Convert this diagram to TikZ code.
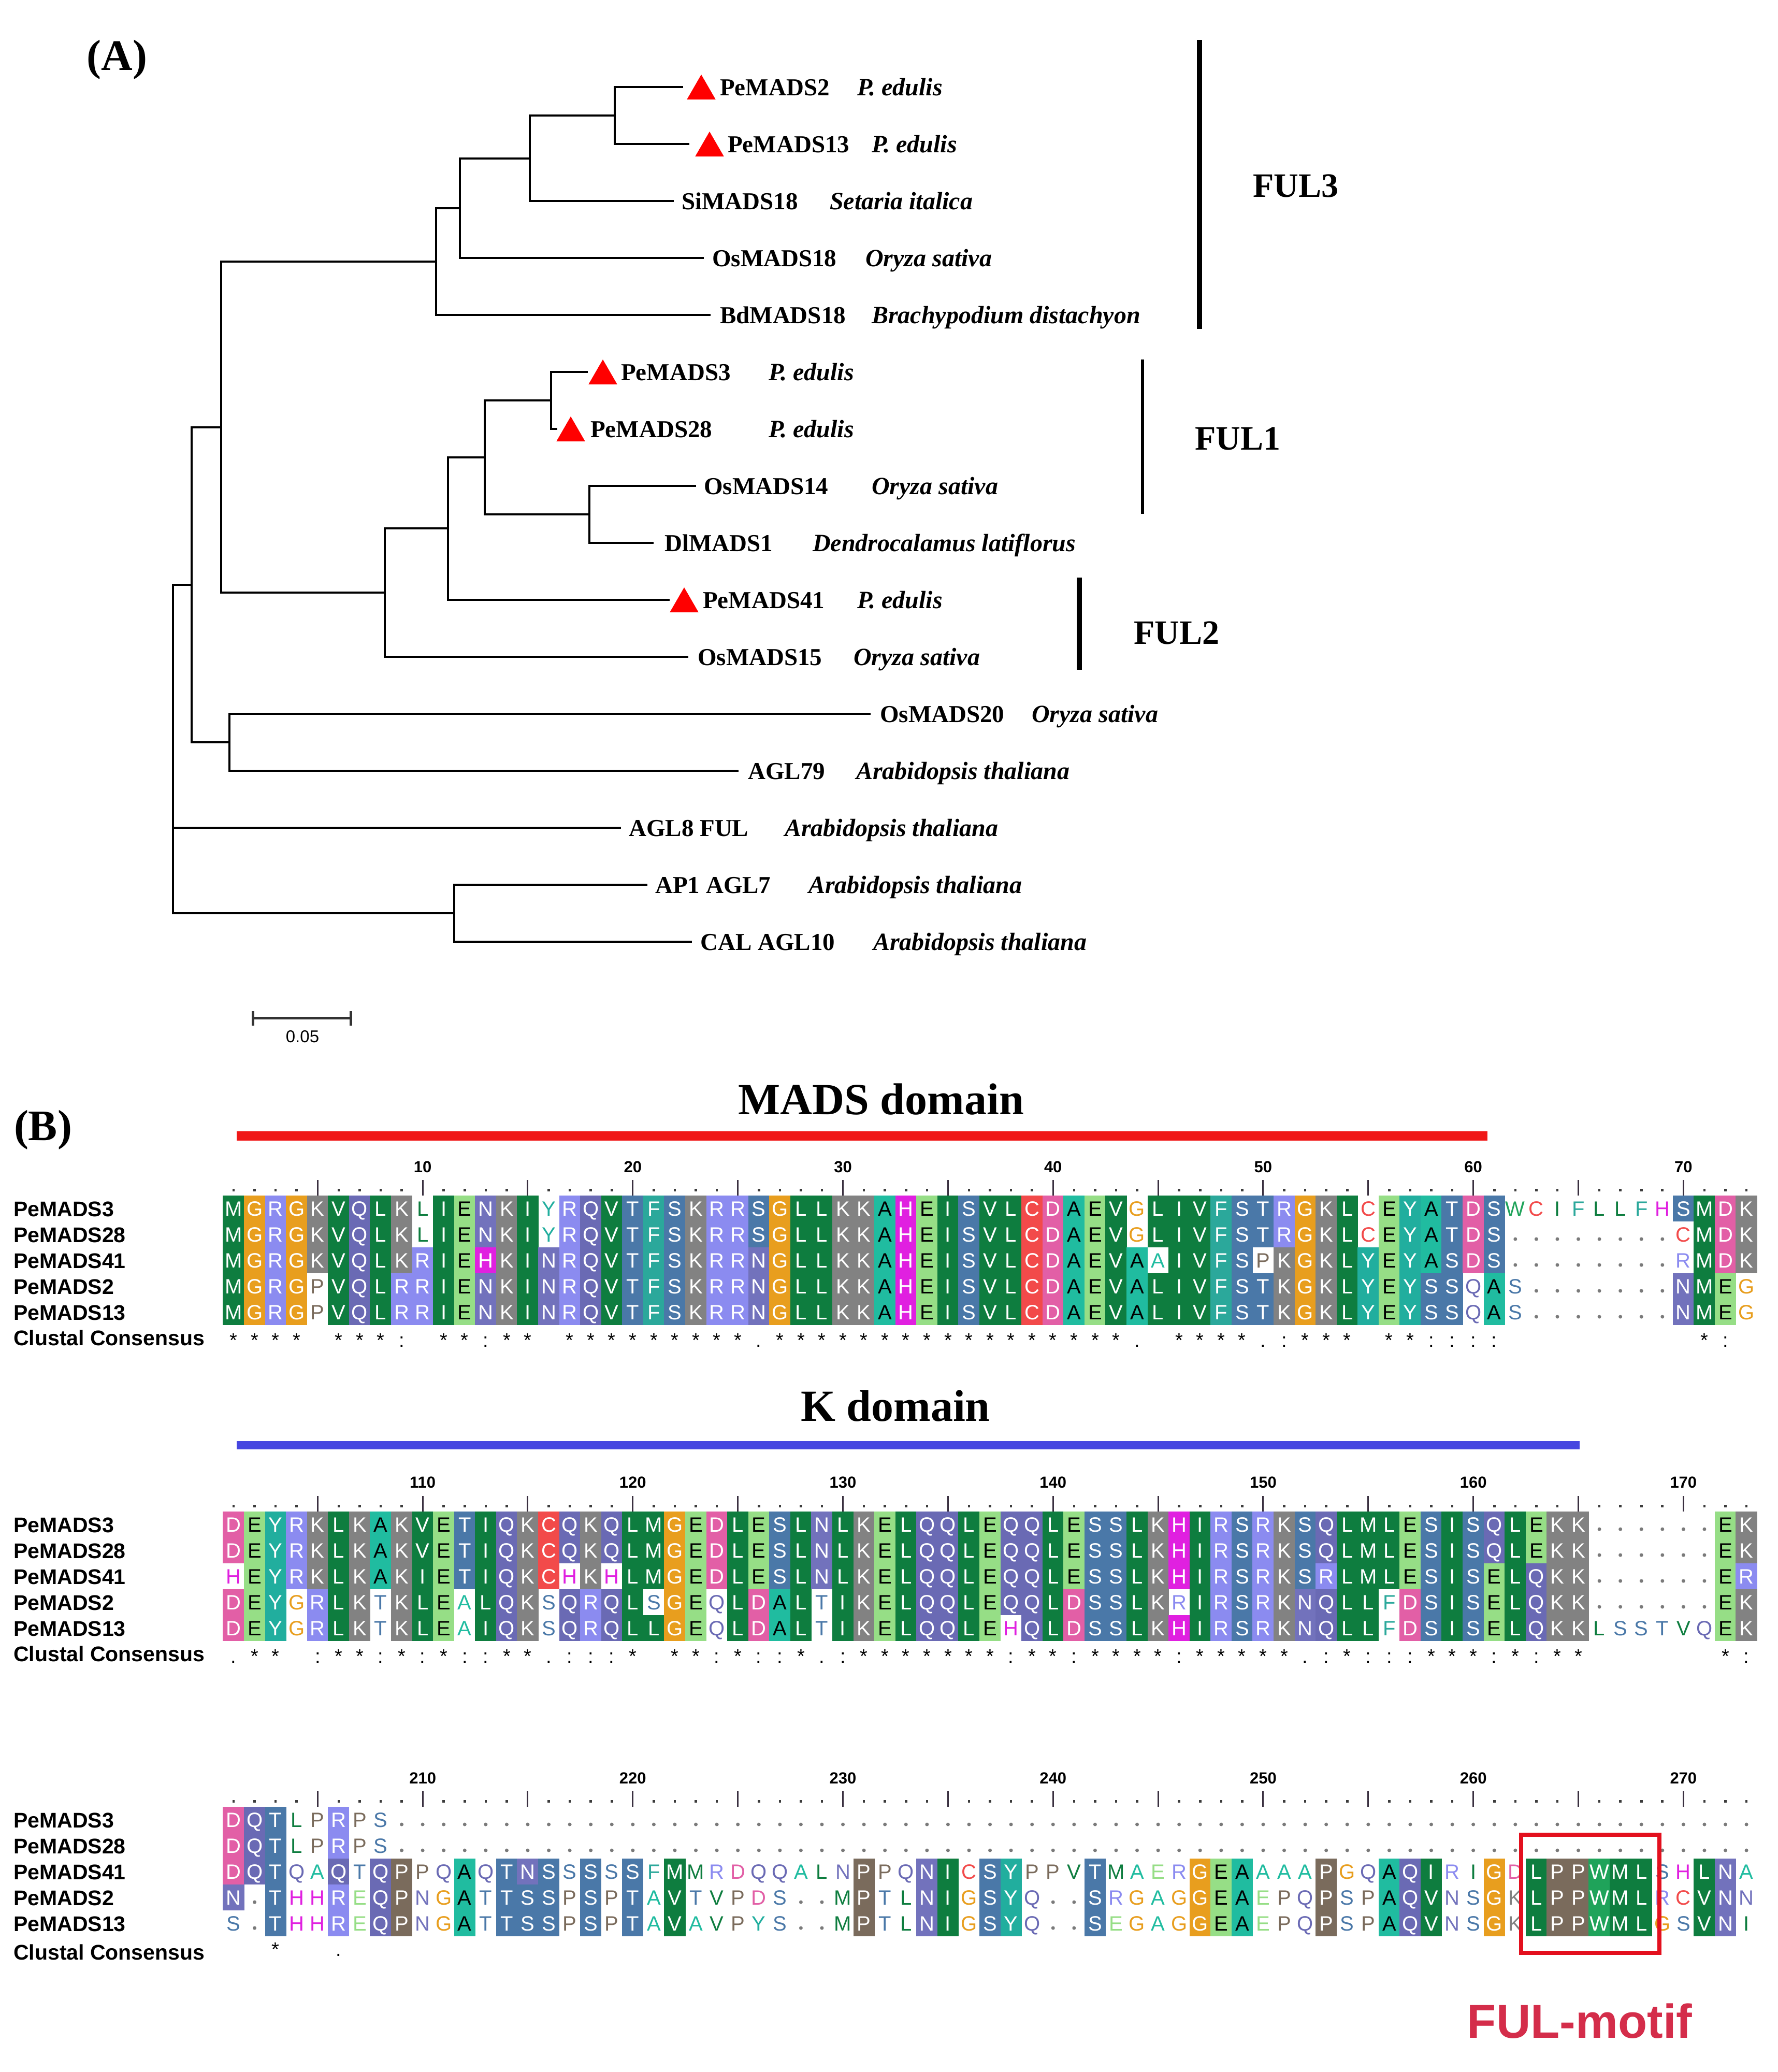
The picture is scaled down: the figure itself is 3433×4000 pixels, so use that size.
\documentclass[tikz,border=0pt]{standalone}
\usepackage{fontspec}
\setmainfont{Liberation Serif}
\newfontfamily\sansf{Liberation Sans}
\usetikzlibrary{shapes.geometric}

\definecolor{rA}{HTML}{20BCA0}
\definecolor{rC}{HTML}{F24A4A}
\definecolor{rD}{HTML}{E25FA6}
\definecolor{rE}{HTML}{96DE86}
\definecolor{rF}{HTML}{2BA89B}
\definecolor{rG}{HTML}{E89E1E}
\definecolor{rH}{HTML}{E020E0}
\definecolor{rI}{HTML}{0E7D3F}
\definecolor{rK}{HTML}{828282}
\definecolor{rL}{HTML}{0E7D3F}
\definecolor{rM}{HTML}{0E7D3F}
\definecolor{rN}{HTML}{7272BC}
\definecolor{rP}{HTML}{7A6B5C}
\definecolor{rQ}{HTML}{6A6AB4}
\definecolor{rR}{HTML}{8B8BF0}
\definecolor{rS}{HTML}{4A78A8}
\definecolor{rT}{HTML}{4A78A8}
\definecolor{rV}{HTML}{0E7D3F}
\definecolor{rW}{HTML}{1FA35A}
\definecolor{rY}{HTML}{21AE9E}
\definecolor{motifred}{HTML}{D42D4A}
\definecolor{boxred}{HTML}{E3101E}
\definecolor{domainred}{HTML}{F01818}
\definecolor{domainblue}{HTML}{4646E0}
\definecolor{tickcol}{HTML}{3A3040}
\definecolor{dotcol}{HTML}{3C3C3C}
\definecolor{gapcol}{HTML}{7A7A7A}
\definecolor{barcol}{HTML}{333333}

\tikzset{
  treeline/.style={line width=4pt, black},
  leafname/.style={font=\bfseries\fontsize{47}{50}\selectfont, anchor=base west, inner sep=0pt},
  species/.style={font=\bfseries\itshape\fontsize{48}{50}\selectfont, anchor=base west, inner sep=0pt},
  marker/.style={regular polygon, regular polygon sides=3, fill=red, draw=none, minimum size=64pt, inner sep=0pt, outer sep=0pt},
  cladelabel/.style={font=\bfseries\fontsize{66}{70}\selectfont, inner sep=0pt},
  panellabel/.style={font=\bfseries\fontsize{84}{90}\selectfont, inner sep=0pt},
  domainlabel/.style={font=\bfseries\fontsize{86}{90}\selectfont, inner sep=0pt},
  resstyle/.style={font=\sansf\fontsize{40}{40}\selectfont, anchor=base, inner sep=0pt, outer sep=0pt},
  consstyle/.style={font=\sansf\fontsize{38}{38}\selectfont, anchor=base, inner sep=0pt},
  seqname/.style={font=\sansf\bfseries\fontsize{41}{44}\selectfont, anchor=base west, inner sep=0pt},
  rulernum/.style={font=\sansf\bfseries\fontsize{31}{33}\selectfont, inner sep=0pt},
  rulertick/.style={line width=3pt, draw=tickcol},
  rulerdot/.style={fill=dotcol},
  gapdot/.style={fill=gapcol},
  scalebar/.style={line width=5pt, draw=barcol},
}

\newcount\colidx
\def\tendots{..........}
\expandafter\def\csname dk@A\endcsname{}
\expandafter\def\csname dk@E\endcsname{}

\def\boxedres#1{%
  \fill[fill=r#1] (\cx-20.6,\rowy-25.3) rectangle (\cx+20.6,\rowy+25.3);%
  \ifcsname dk@#1\endcsname\def\tcol{black}\else\def\tcol{white}\fi
  \node[resstyle,text=\tcol] (res-\blkid-\rowy-\the\colidx) at (\cx,\rowy+14.5) {#1};}
\def\plainres#1{%
  \node[resstyle,text=r#1] (res-\blkid-\rowy-\the\colidx) at (\cx,\rowy+14.5) {#1};}
\def\drawres#1{%
  \pgfmathsetmacro\cx{451+(\the\colidx-1)*40.57}%
  \ifx#1.\relax
    \fill[gapdot] (\cx,\rowy+9) circle[radius=3.5pt];%
  \else
    \uppercase{\def\upl{#1}}\def\orig{#1}%
    \ifx\upl\orig
      \expandafter\boxedres\expandafter{\upl}%
    \else
      \expandafter\plainres\expandafter{\upl}%
    \fi
  \fi}
\def\seqloop#1{\ifx#1\relax\else\global\advance\colidx by 1 \drawres{#1}\expandafter\seqloop\fi}
\def\drawrow#1#2#3{\def\blkid{#1}\def\rowy{#2}\global\colidx=0 \edef\tmpseq{#3}\expandafter\seqloop\tmpseq\relax}

\def\conssym#1{\ifx#1_\else
  \pgfmathsetmacro\cx{451+(\the\colidx-1)*40.57}%
  \node[consstyle] (cons-\rowy-\the\colidx) at (\cx,\rowy) {#1};\fi}
\def\consloop#1{\ifx#1\relax\else\global\advance\colidx by 1 \conssym{#1}\expandafter\consloop\fi}
\def\drawcons#1#2{\def\rowy{#1}\global\colidx=0 \consloop#2\relax}

\newcommand\drawruler[4]{%
  \foreach \c in {1,...,73}{%
    \pgfmathsetmacro\cx{451+(\c-1)*40.57}%
    \pgfmathtruncatemacro\m{mod(\c,5)}%
    \ifnum\m=0
      \draw[rulertick] (\cx,#2) -- (\cx,#3);
    \else
      \fill[rulerdot] (\cx-2.3,#3-13.5) rectangle (\cx+2.3,#3-8.5);
    \fi}
  \foreach \c in {10,20,...,70}{%
    \pgfmathsetmacro\cx{451+(\c-1)*40.57}%
    \pgfmathtruncatemacro\lab{#4+\c}%
    \node[rulernum] (num-#4-\c) at (\cx,#1) {\lab};}}

\newcommand\blocknames[2]{% #1 first row y, #2 consensus label y
  \foreach \nm [count=\k] in {PeMADS3,PeMADS28,PeMADS41,PeMADS2,PeMADS13}{%
    \pgfmathsetmacro\ny{#1+50*(\k-1)+15}%
    \node[seqname] (nm-#1-\k) at (26,\ny) {\nm};}
  \node[seqname] (cc-#1) at (26,#2+15) {Clustal Consensus};}

\begin{document}
\begin{tikzpicture}[x=1pt,y=-1pt]
\fill[white] (0,0) rectangle (3433,4000);
\useasboundingbox (0,0) rectangle (3433,4000);

% ---------------- Panel A: tree ----------------
\node[panellabel] (panelA) at (226,115) {(A)};

\coordinate (e1) at (1319,168);
\coordinate (e2) at (1331,278);
\coordinate (e3) at (1301,388);
\coordinate (e4) at (1359,498);
\coordinate (e5) at (1372,608);
\coordinate (e6) at (1135,718);
\coordinate (e7) at (1076,828);
\coordinate (e8) at (1344,938);
\coordinate (e9) at (1262,1048);
\coordinate (e10) at (1293,1158);
\coordinate (e11) at (1329,1268);
\coordinate (e12) at (1681,1378);
\coordinate (e13) at (1426,1488);
\coordinate (e14) at (1199,1598);
\coordinate (e15) at (1250,1708);
\coordinate (e16) at (1336,1818);

\coordinate (na) at (1187,223);
\coordinate (nb) at (1023,306);
\coordinate (nc) at (888,402);
\coordinate (nd) at (842,505);
\coordinate (ne) at (1064,773);
\coordinate (nf) at (1138,993);
\coordinate (ng) at (936,883);
\coordinate (nh) at (865,1020);
\coordinate (ni) at (743,1144);
\coordinate (nj) at (427,825);
\coordinate (nk) at (443,1433);
\coordinate (nl) at (370,1129);
\coordinate (nm) at (877,1763);
\coordinate (nr) at (334,1446);

\draw[treeline] (e1) -| (na) |- (e2);
\draw[treeline] (na) -| (nb) |- (e3);
\draw[treeline] (nb) -| (nc) |- (e4);
\draw[treeline] (nc) -| (nd) |- (e5);
\draw[treeline] (e6) -| (ne) |- (e7);
\draw[treeline] (e8) -| (nf) |- (e9);
\draw[treeline] (ne) -| (ng) |- (nf);
\draw[treeline] (ng) -| (nh) |- (e10);
\draw[treeline] (nh) -| (ni) |- (e11);
\draw[treeline] (nd) -| (nj) |- (ni);
\draw[treeline] (e12) -| (nk) |- (e13);
\draw[treeline] (nj) -| (nl) |- (nk);
\draw[treeline] (nl) -| (nr) |- (nm);
\draw[treeline] (nr |- e14) -- (e14);
\draw[treeline] (e15) -| (nm) |- (e16);

\node[marker] (t1) at (1354,176) {};
\node[marker] (t2) at (1370,286) {};
\node[marker] (t6) at (1164,726) {};
\node[marker] (t7) at (1102,836) {};
\node[marker] (t10) at (1321,1166) {};

\node[leafname] (l1) at (1390,184) {PeMADS2};
\node[species] (s1) at (1655,184) {P. edulis};
\node[leafname] (l2) at (1405,294) {PeMADS13};
\node[species] (s2) at (1683,294) {P. edulis};
\node[leafname] (l3) at (1316,404) {SiMADS18};
\node[species] (s3) at (1602,404) {Setaria italica};
\node[leafname] (l4) at (1375,514) {OsMADS18};
\node[species] (s4) at (1671,514) {Oryza sativa};
\node[leafname] (l5) at (1390,624) {BdMADS18};
\node[species] (s5) at (1683,624) {Brachypodium distachyon};
\node[leafname] (l6) at (1199,734) {PeMADS3};
\node[species] (s6) at (1484,734) {P. edulis};
\node[leafname] (l7) at (1140,844) {PeMADS28};
\node[species] (s7) at (1484,844) {P. edulis};
\node[leafname] (l8) at (1359,954) {OsMADS14};
\node[species] (s8) at (1683,954) {Oryza sativa};
\node[leafname] (l9) at (1283,1064) {DlMADS1};
\node[species] (s9) at (1569,1064) {Dendrocalamus latiflorus};
\node[leafname] (l10) at (1357,1174) {PeMADS41};
\node[species] (s10) at (1655,1174) {P. edulis};
\node[leafname] (l11) at (1347,1284) {OsMADS15};
\node[species] (s11) at (1648,1284) {Oryza sativa};
\node[leafname] (l12) at (1699,1394) {OsMADS20};
\node[species] (s12) at (1992,1394) {Oryza sativa};
\node[leafname] (l13) at (1444,1504) {AGL79};
\node[species] (s13) at (1653,1504) {Arabidopsis thaliana};
\node[leafname] (l14) at (1214,1614) {AGL8 FUL};
\node[species] (s14) at (1515,1614) {Arabidopsis thaliana};
\node[leafname] (l15) at (1265,1724) {AP1 AGL7};
\node[species] (s15) at (1561,1724) {Arabidopsis thaliana};
\node[leafname] (l16) at (1352,1834) {CAL AGL10};
\node[species] (s16) at (1686,1834) {Arabidopsis thaliana};

% clade bars
\draw[line width=10pt] (2316,77) -- (2316,635);
\draw[line width=6pt] (2206,694) -- (2206,992);
\draw[line width=10pt] (2084,1115) -- (2084,1293);
\node[cladelabel] (ful3) at (2502,359) {FUL3};
\node[cladelabel] (ful1) at (2390,847) {FUL1};
\node[cladelabel] (ful2) at (2272,1222) {FUL2};

% scale bar
\coordinate (sb1) at (488,1965);
\coordinate (sb2) at (677,1965);
\draw[scalebar] (sb1) -- (sb2);
\draw[scalebar] ([yshift=13pt]sb1) -- ([yshift=-15pt]sb1);
\draw[scalebar] ([yshift=13pt]sb2) -- ([yshift=-15pt]sb2);
\node[font=\sansf\fontsize{33}{35}\selectfont, inner sep=0pt] (sblab) at (584,2001) {0.05};

% ---------------- Panel B: alignment ----------------
\node[panellabel] (panelB) at (83,2181) {(B)};
\node[domainlabel] (madsdom) at (1701,2122) {MADS domain};
\fill[domainred] (457,2184) rectangle (2872,2202);
\node[domainlabel] (kdom) at (1729,2714) {K domain};
\fill[domainblue] (457,2782) rectangle (3050,2798);

% block 1
\drawruler{2253}{2278}{2308}{0}
\blocknames{2333}{2582}
\drawrow{a}{2333}{MGRGKVQLKlIENKIyRQVTFSKRRSGLLKKAHEISVLCDAEVgLIVFSTRGKLcEYATDSwcifllfhSMDK}
\drawrow{a}{2383}{MGRGKVQLKlIENKIyRQVTFSKRRSGLLKKAHEISVLCDAEVgLIVFSTRGKLcEYATDS........cMDK}
\drawrow{a}{2433}{MGRGKVQLKRIEHKINRQVTFSKRRNGLLKKAHEISVLCDAEVAaIVFSpKGKLYEYASDS........rMDK}
\drawrow{a}{2483}{MGRGpVQLRRIENKINRQVTFSKRRNGLLKKAHEISVLCDAEVALIVFSTKGKLYEYSSqAs.......NMEg}
\drawrow{a}{2533}{MGRGpVQLRRIENKINRQVTFSKRRNGLLKKAHEISVLCDAEVALIVFSTKGKLYEYSSqAs.......NMEg}
\drawcons{2600}{****_***:_**:**_*********.*****************._****.:***_**::::_________*:_}

% block 2
\drawruler{2862}{2888}{2918}{100}
\blocknames{2943}{3192}
\drawrow{b}{2943}{DEYRKLKAKVETIQKCQKQLMGEDLESLNLKELQQLEQQLESSLKHIRSRKSQLMLESISQLEKK......EK}
\drawrow{b}{2993}{DEYRKLKAKVETIQKCQKQLMGEDLESLNLKELQQLEQQLESSLKHIRSRKSQLMLESISQLEKK......EK}
\drawrow{b}{3043}{hEYRKLKAKIETIQKChKhLMGEDLESLNLKELQQLEQQLESSLKHIRSRKSRLMLESISELQKK......ER}
\drawrow{b}{3093}{DEYgRLKtKLEaLQKsQRQLsGEqLDALtIKELQQLEQQLDSSLKrIRSRKNQLLfDSISELQKK......EK}
\drawrow{b}{3143}{DEYgRLKtKLEaIQKsQRQLLGEqLDALtIKELQQLEhQLDSSLKHIRSRKNQLLfDSISELQKKlsstvqEK}
\drawcons{3210}{.**_:**:*:*::**.:::*_**:*::*.:*******:**:****:*****.:*:::***:*:**______*:}

% block 3
\drawruler{3433}{3458}{3488}{200}
\blocknames{3513}{3768}
\drawrow{c}{3513}{DQTlpRps\tendots\tendots\tendots\tendots\tendots\tendots.....}
\drawrow{c}{3563}{DQTlpRps\tendots\tendots\tendots\tendots\tendots\tendots.....}
\drawrow{c}{3613}{DQTqaQtQPpqAqTNSsSsSfMmrdqqalnPpqNIcSYppvTmaerGEAaaaPgqAQIriGdLPPWMLshLNa}
\drawrow{c}{3663}{N.ThhReQPngAtTSSpSpTaVtvpds..mPtlNIgSYq..SrgagGEAepqPspAQVnsGkLPPWMLrcVNn}
\drawrow{c}{3713}{s.ThhReQPngAtTSSpSpTaVavpys..mPtlNIgSYq..SegagGEAepqPspAQVnsGkLPPWMLgsVNi}
\drawcons{3776}{__*__.}

% FUL motif box and label
\draw[boxred, line width=8pt] (2937,3542) rectangle (3204,3770);
\node[font=\sansf\bfseries\fontsize{92}{96}\selectfont, text=motifred, inner sep=0pt] (fulmotif) at (3050,3902) {FUL-motif};

\end{tikzpicture}
\end{document}
